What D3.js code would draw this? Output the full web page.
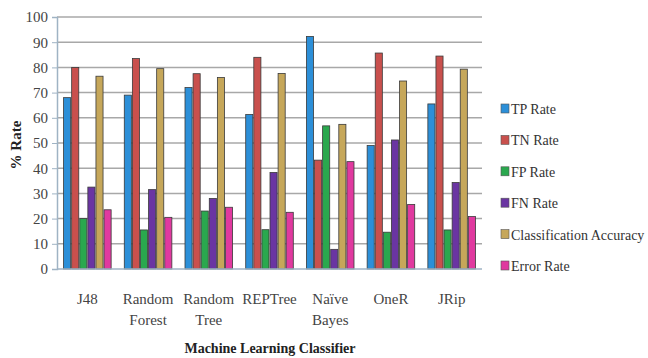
<!DOCTYPE html>
<html><head><meta charset="utf-8">
<script src="https://cdn.jsdelivr.net/npm/d3@7"></script>
<style>body{margin:0;background:#fff}svg{display:block}text{font-family:"Liberation Serif","Times New Roman",serif}</style>
</head><body><svg id="c" width="648" height="358"></svg>
<script>
const categories = [["J48"],["Random","Forest"],["Random","Tree"],["REPTree"],["Naïve","Bayes"],["OneR"],["JRip"]];
const seriesNames = ["TP Rate","TN Rate","FP Rate","FN Rate","Classification Accuracy","Error Rate"];
const colors = ["#2c8fd8","#c9504d","#2aa84e","#6a35a2","#c6a75a","#e0399f"];
const tpRate = [68, 69, 72, 61.3, 92.3, 49, 65.5];
const tnRate = [80, 83.5, 77.5, 84, 43.2, 85.7, 84.5];
const fpRate = [20, 15.5, 23, 15.6, 56.8, 14.6, 15.5];
const fnRate = [32.5, 31.5, 28, 38.3, 7.8, 51.2, 34.3];
const accuracy = [76.5, 79.5, 76, 77.6, 57.4, 74.6, 79.3];
const errorRate = [23.5, 20.5, 24.5, 22.5, 42.6, 25.6, 20.8];
const yTicks = [0,10,20,30,40,50,60,70,80,90,100];

const series = [tpRate,tnRate,fpRate,fnRate,accuracy,errorRate];
const svg = d3.select("#c");
const m = {l:57, r:166, t:17, b:89};
const W = 648, H = 358;
const x0 = d3.scaleBand().domain(d3.range(categories.length)).range([m.l, W-m.r]).paddingInner(0.2).paddingOuter(0.1);
const x1 = d3.scaleBand().domain(d3.range(series.length)).range([0, x0.bandwidth()]);
const y = d3.scaleLinear().domain([0,100]).range([H-m.b, m.t]);

// grid
svg.append("g").selectAll("line").data(yTicks.filter(d=>d>0)).join("line")
  .attr("x1", m.l).attr("x2", W-m.r).attr("y1", d=>y(d)).attr("y2", d=>y(d))
  .attr("stroke","#a8a8a8").attr("stroke-width",1.5);

// y axis
const ya = svg.append("g").attr("transform",`translate(${m.l},0)`)
  .call(d3.axisLeft(y).tickValues(yTicks).tickSize(5).tickPadding(4));
ya.select(".domain").attr("stroke","#9fb3c4").attr("stroke-width",1.5);
ya.selectAll(".tick line").attr("stroke","#9fb3c4");
ya.selectAll("text").attr("font-size",15).attr("fill","#444").attr("font-family","Liberation Serif");

// bars
const g = svg.append("g");
categories.forEach((c,i)=>{
  series.forEach((s,j)=>{
    g.append("rect")
      .attr("x", x0(i)+x1(j)+0.5).attr("y", y(s[i]))
      .attr("width", x1.bandwidth()-1).attr("height", y(0)-y(s[i]))
      .attr("fill", colors[j]).attr("stroke","#3a3a3a").attr("stroke-width",0.8);
  });
});

// bottom axis line
svg.append("line").attr("x1",m.l).attr("x2",W-m.r).attr("y1",y(0)).attr("y2",y(0))
  .attr("stroke","#9fb3c4").attr("stroke-width",1.5);

// x labels
const xl = svg.append("g");
categories.forEach((c,i)=>{
  const t = xl.append("text").attr("x", x0(i)+x0.bandwidth()/2).attr("y", 304)
    .attr("text-anchor","middle").attr("font-size",15).attr("fill","#444");
  c.forEach((line,k)=>t.append("tspan").attr("x", x0(i)+x0.bandwidth()/2).attr("dy", k===0?0:21).text(line));
});

// axis titles
svg.append("text").attr("x",270).attr("y",353).attr("text-anchor","middle")
  .attr("font-size",14).attr("font-weight","bold").attr("fill","#222").text("Machine Learning Classifier");
svg.append("text").attr("transform","translate(21,145) rotate(-90)").attr("text-anchor","middle")
  .attr("font-size",15).attr("font-weight","bold").attr("fill","#222").text("% Rate");

// legend
const lg = svg.append("g");
seriesNames.forEach((n,j)=>{
  const yy = 109 + j*31.4;
  lg.append("rect").attr("x",501).attr("y",yy-5).attr("width",8).attr("height",9)
    .attr("fill",colors[j]).attr("stroke","#555").attr("stroke-width",0.6);
  lg.append("text").attr("x",511).attr("y",yy+5).attr("font-size",14).attr("fill","#333").text(n);
});
</script></body></html>
